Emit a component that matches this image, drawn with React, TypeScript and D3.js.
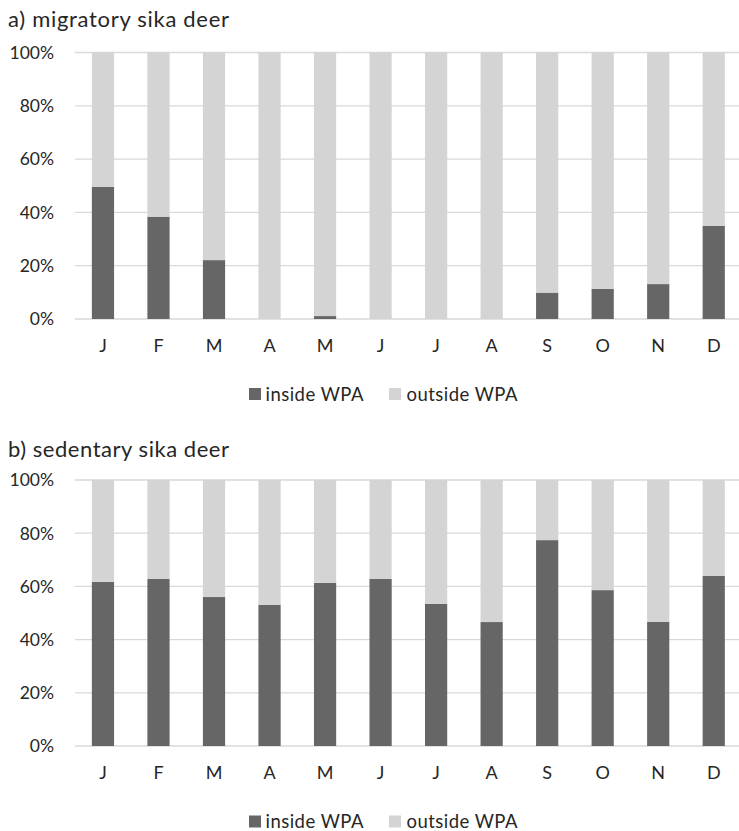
import React from "react";
import * as d3 from "d3";

const months = ["J", "F", "M", "A", "M", "J", "J", "A", "S", "O", "N", "D"];
const yTicks = [0, 20, 40, 60, 80, 100];
const migratoryInside = [49.6, 38.4, 22.1, 0, 1.1, 0, 0, 0, 9.9, 11.3, 13.1, 34.9];
const sedentaryInside = [61.7, 62.8, 56.0, 53.1, 61.3, 62.8, 53.4, 46.6, 77.4, 58.6, 46.7, 64.0];
const seriesNames = ["inside WPA", "outside WPA"];

const DARK = "#666666";
const LIGHT = "#d4d4d4";
const GRID = "#d9d9d9";
const TEXT = "#262626";
const FONT = "Lato, 'Open Sans', sans-serif";

type PanelProps = {
  title: string;
  values: number[];
  top: number;
  bottom: number;
  titleY: number;
  legendY: number;
};

function Panel({ title, values, top, bottom, titleY, legendY }: PanelProps) {
  const x = d3
    .scaleBand<number>()
    .domain(months.map((_, i) => i))
    .range([75.2, 741.5])
    .paddingInner(0.6)
    .paddingOuter(0.3);
  const y = d3.scaleLinear().domain([0, 100]).range([bottom, top]);
  const keys = ["inside", "outside"];
  const rows = values.map((v, i) => ({ i, inside: v, outside: 100 - v }));
  const stacked = d3.stack<any>().keys(keys)(rows);
  const colors = [DARK, LIGHT];
  return (
    <g>
      <text x={8} y={titleY} fontSize={22} fill={TEXT} fontFamily={FONT} textLength={221} lengthAdjust="spacing">
        {title}
      </text>
      {yTicks.map((t) => (
        <g key={t}>
          <line x1={75} x2={739} y1={y(t)} y2={y(t)} stroke={GRID} strokeWidth={1.3} />
          <text
            x={54}
            y={y(t)}
            dy="0.36em"
            textAnchor="end"
            fontSize={17.5}
            fill={TEXT}
            fontFamily={FONT}
          >
            {t}%
          </text>
        </g>
      ))}
      {stacked.map((s, si) => (
        <g key={si} fill={colors[si]}>
          {s.map((d, j) => (
            <rect
              key={j}
              x={x(j)}
              width={x.bandwidth()}
              y={y(d[1])}
              height={Math.max(0, y(d[0]) - y(d[1]))}
            />
          ))}
        </g>
      ))}
      {months.map((m, i) => (
        <text
          key={i}
          x={(x(i) as number) + x.bandwidth() / 2}
          y={bottom + 33}
          textAnchor="middle"
          fontSize={18}
          fill={TEXT}
          fontFamily={FONT}
        >
          {m}
        </text>
      ))}
      <g fontFamily={FONT} fontSize={18.5} fill={TEXT}>
        <rect x={249} y={legendY - 12.5} width={12} height={12} fill={DARK} />
        <text x={265.5} y={legendY} textLength={98} lengthAdjust="spacing">{seriesNames[0]}</text>
        <rect x={389} y={legendY - 12.5} width={12} height={12} fill={LIGHT} />
        <text x={406.5} y={legendY} textLength={111} lengthAdjust="spacing">{seriesNames[1]}</text>
      </g>
    </g>
  );
}

export default function App() {
  return (
    <svg width={739} height={831} style={{ position: "absolute", left: 0, top: 0, background: "#fff" }}>
      <rect width={739} height={831} fill="#fff" />
      <Panel title="a) migratory sika deer" values={migratoryInside} top={52.5} bottom={319} titleY={27} legendY={400.5} />
      <Panel title="b) sedentary sika deer" values={sedentaryInside} top={480} bottom={746} titleY={457} legendY={828} />
    </svg>
  );
}
